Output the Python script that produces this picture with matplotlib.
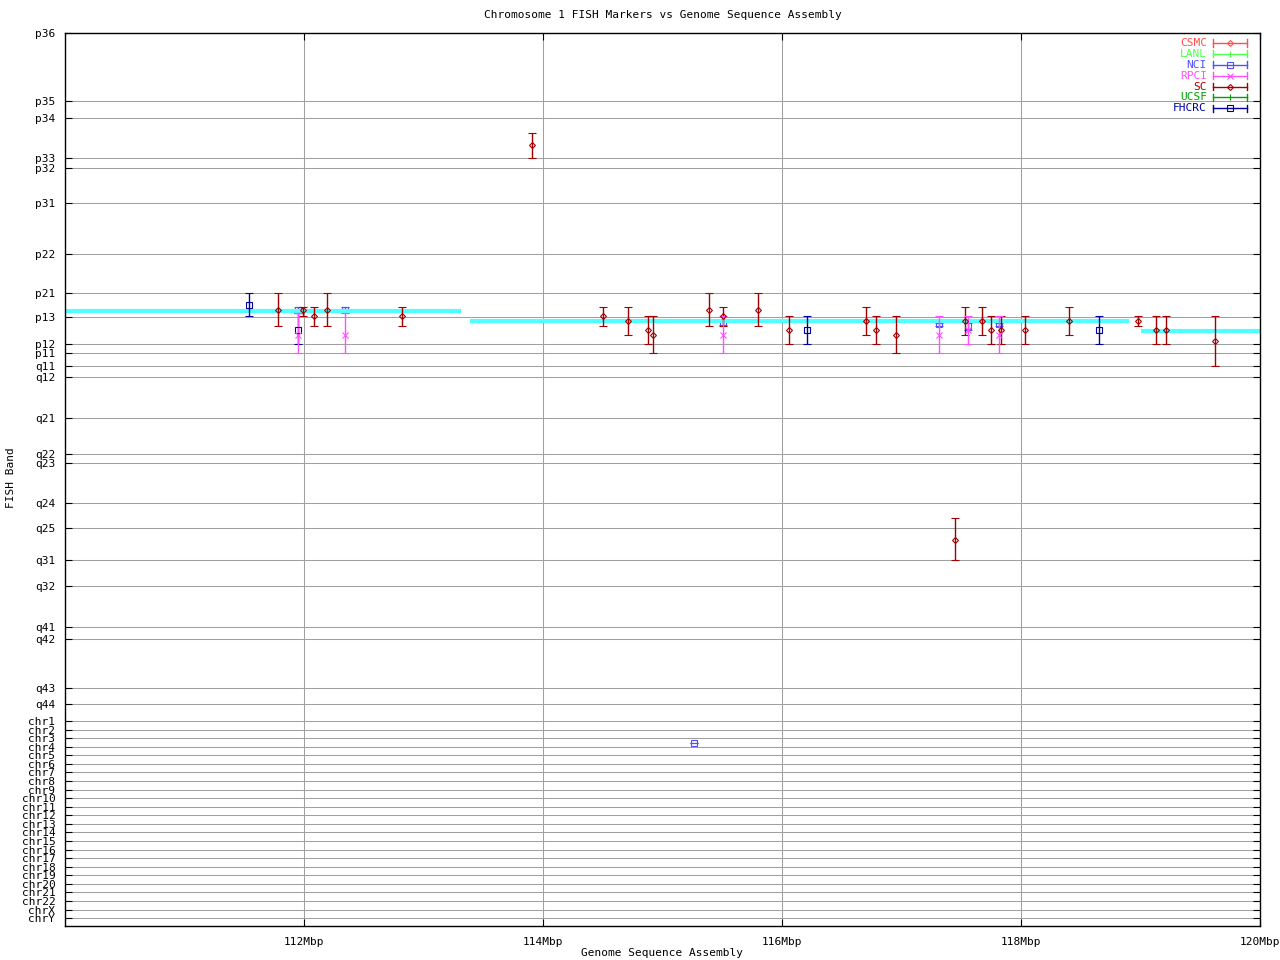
import matplotlib
matplotlib.use('Agg')
import matplotlib.pyplot as plt
import numpy as np

plt.rcParams['font.family'] = 'DejaVu Sans Mono'
plt.rcParams['font.size'] = 8

# band axis: position of each FISH band label (axis units, 0 = p36 at top)
band_names = ['p36', 'p35', 'p34', 'p33', 'p32', 'p31', 'p22', 'p21', 'p13', 'p12', 'p11',
              'q11', 'q12', 'q21', 'q22', 'q23', 'q24', 'q25', 'q31', 'q32', 'q41', 'q42',
              'q43', 'q44']
band_pos = [0, 68, 85, 125, 135, 170, 221, 260, 284, 311, 320,
            333, 344, 385, 421, 430, 470, 495, 527, 553, 594, 606,
            655, 671]
chr_names = ['chr1', 'chr2', 'chr3', 'chr4', 'chr5', 'chr6', 'chr7', 'chr8', 'chr9', 'chr10',
             'chr11', 'chr12', 'chr13', 'chr14', 'chr15', 'chr16', 'chr17', 'chr18', 'chr19',
             'chr20', 'chr21', 'chr22', 'chrX', 'chrY']
chr_pos = [688, 696.6, 705.1, 713.7, 722.3, 730.9, 739.4, 748, 756.6, 765.1,
           773.7, 782.3, 790.9, 799.4, 808, 816.6, 825.1, 833.7, 842.3,
           850.9, 859.4, 868, 876.6, 885]
y_bottom = 893

# genome sequence assembly (cyan segments)
asm_x = [[110.0, 113.31], [113.39, 118.90], [119.0, 120.0]]
asm_y = [278, 288, 298]

# markers: x (Mbp), band position, lower / upper band range
sc_x = [111.78, 111.99, 112.08, 112.19, 112.82, 113.91, 114.50, 114.71, 114.88, 114.92,
        115.39, 115.51, 115.80, 116.06, 116.70, 116.79, 116.95, 117.45, 117.53, 117.67,
        117.75, 117.83, 118.03, 118.40, 118.98, 119.13, 119.21, 119.62]
sc_y = [277, 277, 283, 277, 283, 112, 283, 288, 297, 302,
        277, 283, 277, 297, 288, 297, 302, 507, 288, 288,
        297, 297, 297, 288, 288, 297, 297, 308]
sc_lo = [260, 274, 274, 260, 274, 100, 274, 274, 283, 283,
         260, 274, 260, 283, 274, 283, 283, 485, 274, 274,
         283, 283, 283, 274, 283, 283, 283, 283]
sc_hi = [293, 283, 293, 293, 293, 125, 293, 302, 311, 320,
         293, 293, 293, 311, 302, 311, 320, 527, 302, 302,
         311, 311, 311, 302, 293, 311, 311, 333]

fhcrc_x = [111.54, 111.95, 116.21, 118.65]
fhcrc_y = [272, 297, 297, 297]
fhcrc_lo = [260, 280, 283, 283]
fhcrc_hi = [283, 311, 311, 311]

nci_x = [111.95, 112.34, 115.51, 117.31, 117.56, 117.82, 115.26]
nci_y = [277, 277, 290, 291, 293, 291, 710]
nci_lo = [274, 274, 288, 290, 290, 290, 710]
nci_hi = [280, 280, 292, 293, 297, 293, 710]

rpci_x = [111.95, 112.34, 115.51, 117.31, 117.56, 117.82]
rpci_y = [302, 302, 302, 302, 297, 302]
rpci_lo = [280, 280, 283, 283, 283, 283]
rpci_hi = [320, 320, 320, 320, 311, 320]

colors = {'CSMC': '#ff5050', 'LANL': '#50ff50', 'NCI': '#5050ff', 'RPCI': '#ff50ff',
          'SC': '#a00000', 'UCSF': '#00a000', 'FHCRC': '#0000a0'}
markers = {'CSMC': 'D', 'LANL': '|', 'NCI': 's', 'RPCI': 'x',
           'SC': 'D', 'UCSF': '|', 'FHCRC': 's'}
msizes = {'CSMC': 3, 'LANL': 4, 'NCI': 4, 'RPCI': 4, 'SC': 3, 'UCSF': 4, 'FHCRC': 5}

fig = plt.figure(figsize=(12.8, 9.6), dpi=100)
ax = fig.add_axes([65 / 1280, 1 - 926 / 960, 1195 / 1280, 893 / 960])

for xs, y in zip(asm_x, asm_y):
    ax.plot(xs, [y, y], color='#50ffff', lw=3, zorder=2, solid_capstyle='butt')


def plot_source(name, x, y, lo, hi, z=3):
    y = np.array(y, dtype=float)
    err = [y - np.array(lo), np.array(hi) - y]
    ax.errorbar(x, y, yerr=err, fmt=markers[name], color=colors[name], ms=msizes[name],
                mfc='none', mew=0.8, elinewidth=1, capsize=2.6, capthick=1, zorder=z)


plot_source('SC', sc_x, sc_y, sc_lo, sc_hi)
plot_source('FHCRC', fhcrc_x, fhcrc_y, fhcrc_lo, fhcrc_hi)
plot_source('NCI', nci_x, nci_y, nci_lo, nci_hi, z=1.5)
plot_source('RPCI', rpci_x, rpci_y, rpci_lo, rpci_hi)

ax.set_xlim(110, 120)
ax.set_ylim(y_bottom, 0)
xt = [112, 114, 116, 118, 120]
ax.set_xticks(xt)
ax.set_xticklabels(['{}Mbp'.format(v) for v in xt])
ax.set_yticks(band_pos + chr_pos)
ax.set_yticklabels(band_names + chr_names)
ax.tick_params(direction='in', length=5, width=0.8, top=True, right=True, pad=7)
ax.tick_params(axis='x', pad=8)
for v in xt[:-1]:
    ax.axvline(v, color='#a0a0a0', lw=0.75, zorder=1)
for v in band_pos[1:] + chr_pos:
    ax.axhline(v, color='#a0a0a0', lw=0.75, zorder=1)
for s in ax.spines.values():
    s.set_linewidth(1)

fig.text(663 / 1280, 1 - 15 / 960, 'Chromosome 1 FISH Markers vs Genome Sequence Assembly',
         ha='center', va='center')
fig.text(662 / 1280, 1 - 953 / 960, 'Genome Sequence Assembly', ha='center', va='center')
fig.text(11 / 1280, 1 - 478 / 960, 'FISH Band', rotation=90, ha='center', va='center')

# gnuplot style key
for i, name in enumerate(['CSMC', 'LANL', 'NCI', 'RPCI', 'SC', 'UCSF', 'FHCRC']):
    yk = 0.9888 - i * 0.0122
    ax.text(0.9556, yk, name, color=colors[name], ha='right', va='center',
            transform=ax.transAxes)
    ax.plot([0.9606, 0.9891], [yk, yk], color=colors[name], lw=1, transform=ax.transAxes,
            clip_on=False)
    for xe in (0.9606, 0.9891):
        ax.plot([xe, xe], [yk - 0.004, yk + 0.004], color=colors[name], lw=1,
                transform=ax.transAxes, clip_on=False)
    ax.plot([0.9749], [yk], marker=markers[name], ms=msizes[name], mfc='none', mew=0.8,
            color=colors[name], transform=ax.transAxes, clip_on=False)

fig.savefig('out.png', dpi=100)
